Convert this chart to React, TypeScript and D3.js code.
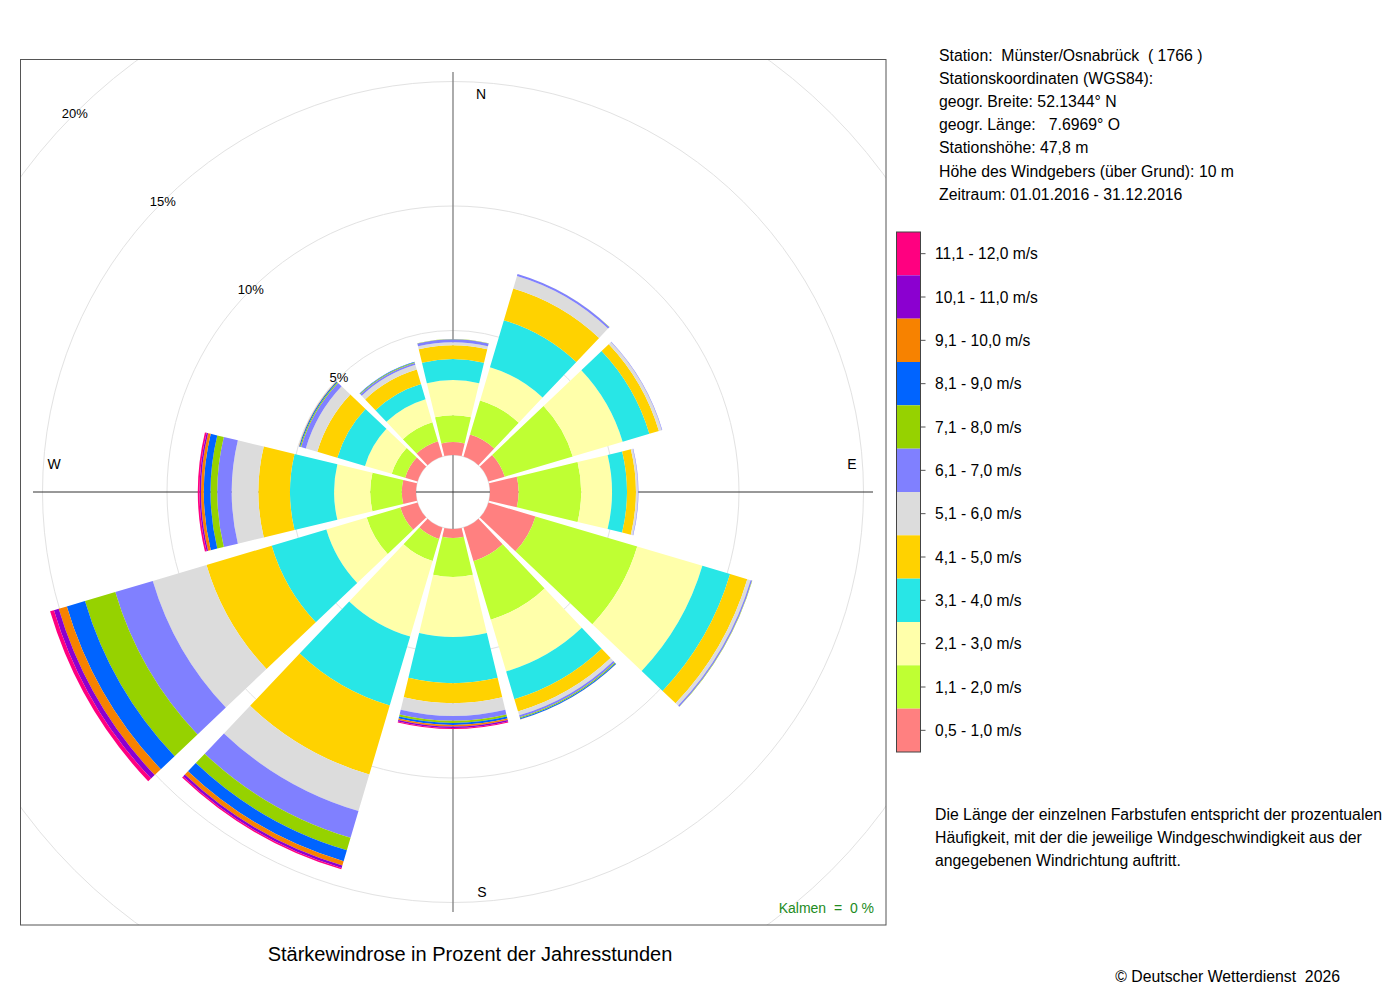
import React from "react";
import * as d3 from "d3";

// Directions (degrees clockwise from north)
const directions = [0, 30, 60, 90, 120, 150, 180, 210, 240, 270, 300, 330];

// Speed classes (inner to outer)
const speedClasses = [
  "0,5 - 1,0 m/s",
  "1,1 - 2,0 m/s",
  "2,1 - 3,0 m/s",
  "3,1 - 4,0 m/s",
  "4,1 - 5,0 m/s",
  "5,1 - 6,0 m/s",
  "6,1 - 7,0 m/s",
  "7,1 - 8,0 m/s",
  "8,1 - 9,0 m/s",
  "9,1 - 10,0 m/s",
  "10,1 - 11,0 m/s",
  "11,1 - 12,0 m/s",
];

const classColors = [
  "#FF8080",
  "#BFFF33",
  "#FFFFAA",
  "#28E6E6",
  "#FFD200",
  "#DCDCDC",
  "#8080FF",
  "#96D200",
  "#0064FF",
  "#F78200",
  "#8B00D0",
  "#FF0080",
];

// Frequency (% of annual hours) per speed class, one value per direction
const s05_10 = [0.52, 0.92, 0.68, 1.15, 1.97, 1.41, 0.36, 0.48, 0.72, 0.57, 0.52, 0.64];
const s11_20 = [1.08, 1.43, 2.85, 2.51, 4.26, 2.45, 1.57, 0.92, 1.41, 1.27, 0.56, 0.8];
const s21_30 = [1.41, 1.39, 2.09, 1.24, 2.73, 2.17, 2.41, 3.17, 1.69, 1.45, 1.12, 0.96];
const s31_40 = [0.84, 1.97, 1.12, 0.6, 1.16, 1.16, 1.85, 2.89, 2.29, 1.77, 1.16, 0.64];
const s41_50 = [0.56, 1.33, 0.4, 0.36, 0.72, 0.52, 0.8, 2.89, 2.73, 1.27, 0.84, 0.6];
const s51_60 = [0.12, 0.52, 0.12, 0.08, 0.14, 0.16, 0.52, 1.53, 2.25, 1.07, 0.48, 0.2];
const s61_70 = [0.12, 0.08, 0.02, 0.02, 0.06, 0.08, 0.19, 1.12, 1.57, 0.58, 0.2, 0.08];
const s71_80 = [0.01, 0.01, 0, 0, 0.01, 0.04, 0.09, 0.52, 1.27, 0.27, 0.04, 0.03];
const s81_90 = [0, 0, 0, 0, 0, 0.04, 0.08, 0.46, 0.76, 0.27, 0.04, 0.02];
const s91_100 = [0, 0, 0, 0, 0, 0.01, 0.06, 0.18, 0.34, 0.11, 0.01, 0];
const s101_110 = [0, 0, 0, 0, 0, 0, 0.06, 0.1, 0.2, 0.06, 0, 0];
const s111_120 = [0, 0, 0, 0, 0, 0, 0.04, 0.06, 0.16, 0.07, 0, 0];

const series = [s05_10, s11_20, s21_30, s31_40, s41_50, s51_60, s61_70, s71_80, s81_90, s91_100, s101_110, s111_120];

const gridPercents = [5, 10, 15, 20];
const compassLabels = [
  { t: "N", a: 0 },
  { t: "E", a: 90 },
  { t: "S", a: 180 },
  { t: "W", a: 270 },
];

const infoLines = [
  "Station:  Münster/Osnabrück  ( 1766 )",
  "Stationskoordinaten (WGS84):",
  "geogr. Breite: 52.1344° N",
  "geogr. Länge:   7.6969° O",
  "Stationshöhe: 47,8 m",
  "Höhe des Windgebers (über Grund): 10 m",
  "Zeitraum: 01.01.2016 - 31.12.2016",
];

const noteLines = [
  "Die Länge der einzelnen Farbstufen entspricht der prozentualen",
  "Häufigkeit, mit der die jeweilige Windgeschwindigkeit aus der",
  "angegebenen Windrichtung auftritt.",
];

const FONT = "'Liberation Sans', Arial, Helvetica, sans-serif";

export default function App() {
  const cx = 453;
  const cy = 492;
  const r = d3.scaleLinear().domain([0, 20]).range([37, 535]);
  const half = (13.5 * Math.PI) / 180;
  const arc = d3.arc<any>();

  const wedges: any[] = [];
  directions.forEach((dir, di) => {
    let cum = 0;
    series.forEach((vals, si) => {
      const v = vals[di];
      if (v <= 0) return;
      const a = (dir * Math.PI) / 180;
      const d = arc({
        innerRadius: r(cum),
        outerRadius: r(cum + v),
        startAngle: a - half,
        endAngle: a + half,
      });
      wedges.push(<path key={`${di}-${si}`} d={d || ""} fill={classColors[si]} />);
      cum += v;
    });
  });

  const axisLen = 420;
  const legendTop = 232;
  const legendH = 520;
  const cellH = legendH / speedClasses.length;
  const legendX = 896.5;
  const legendW = 24;

  return (
    <svg
      width={1400}
      height={1000}
      style={{ position: "absolute", left: 0, top: 0, background: "#fff" }}
      fontFamily={FONT}
    >
      <defs>
        <clipPath id="frame">
          <rect x={20} y={59} width={866} height={866} />
        </clipPath>
      </defs>
      <rect x={0} y={0} width={1400} height={1000} fill="#fff" />

      {/* grid circles */}
      <g clipPath="url(#frame)">
        {gridPercents.map((p) => (
          <circle key={p} cx={cx} cy={cy} r={r(p)} fill="none" stroke="#e2e2e2" strokeWidth={1} />
        ))}
        <circle cx={cx} cy={cy} r={r(0)} fill="none" stroke="#e2e2e2" strokeWidth={1} />
      </g>

      {/* axes */}
      <line x1={cx} x2={cx} y1={cy - axisLen} y2={cy + axisLen} stroke="#888" strokeWidth={1.4} />
      <line x1={cx - axisLen} x2={cx + axisLen} y1={cy} y2={cy} stroke="#333" strokeWidth={1} />

      {/* wedges */}
      <g transform={`translate(${cx},${cy})`}>{wedges}</g>

      {/* frame */}
      <rect x={20.5} y={59.5} width={865.5} height={865.5} fill="none" stroke="#555" strokeWidth={1} />

      {/* percent labels */}
      {gridPercents.map((p) => {
        const rr = r(p);
        const x = cx - rr * Math.SQRT1_2;
        const y = cy - rr * Math.SQRT1_2;
        return (
          <text key={p} x={x} y={y} fontSize={13} textAnchor="middle" dominantBaseline="central" fill="#000">
            {p}%
          </text>
        );
      })}

      {/* compass labels */}
      <text x={481} y={94} fontSize={14} textAnchor="middle" dominantBaseline="central">N</text>
      <text x={852} y={464} fontSize={14} textAnchor="middle" dominantBaseline="central">E</text>
      <text x={482} y={892} fontSize={14} textAnchor="middle" dominantBaseline="central">S</text>
      <text x={54} y={464} fontSize={14} textAnchor="middle" dominantBaseline="central">W</text>

      <text x={874} y={908} fontSize={14} textAnchor="end" dominantBaseline="central" fill="#228B22" style={{ whiteSpace: "pre" }}>
        {"Kalmen  =  0 %"}
      </text>

      {/* title */}
      <text x={470} y={954} fontSize={20} textAnchor="middle" dominantBaseline="central">
        Stärkewindrose in Prozent der Jahresstunden
      </text>

      {/* info */}
      {infoLines.map((t, i) => (
        <text key={i} x={939} y={55 + i * 23.2} fontSize={15.8} dominantBaseline="central" style={{ whiteSpace: "pre" }}>
          {t}
        </text>
      ))}

      {/* legend */}
      {speedClasses.map((lab, i) => {
        const idx = speedClasses.length - 1 - i;
        const y = legendTop + i * cellH;
        return (
          <g key={lab}>
            <rect x={legendX} y={y} width={legendW} height={cellH} fill={classColors[idx]} />
            <line x1={legendX + legendW} x2={legendX + legendW + 5} y1={y + cellH / 2} y2={y + cellH / 2} stroke="#555" />
            <text x={935} y={y + cellH / 2} fontSize={15.6} dominantBaseline="central">
              {speedClasses[idx]}
            </text>
          </g>
        );
      })}
      <rect x={legendX} y={legendTop} width={legendW} height={legendH} fill="none" stroke="#444" strokeWidth={1} />

      {/* note */}
      {noteLines.map((t, i) => (
        <text key={i} x={935} y={814 + i * 23} fontSize={15.8} dominantBaseline="central">
          {t}
        </text>
      ))}

      <text x={1340} y={976} fontSize={15.8} textAnchor="end" dominantBaseline="central" style={{ whiteSpace: "pre" }}>
        {"© Deutscher Wetterdienst  2026"}
      </text>
    </svg>
  );
}
